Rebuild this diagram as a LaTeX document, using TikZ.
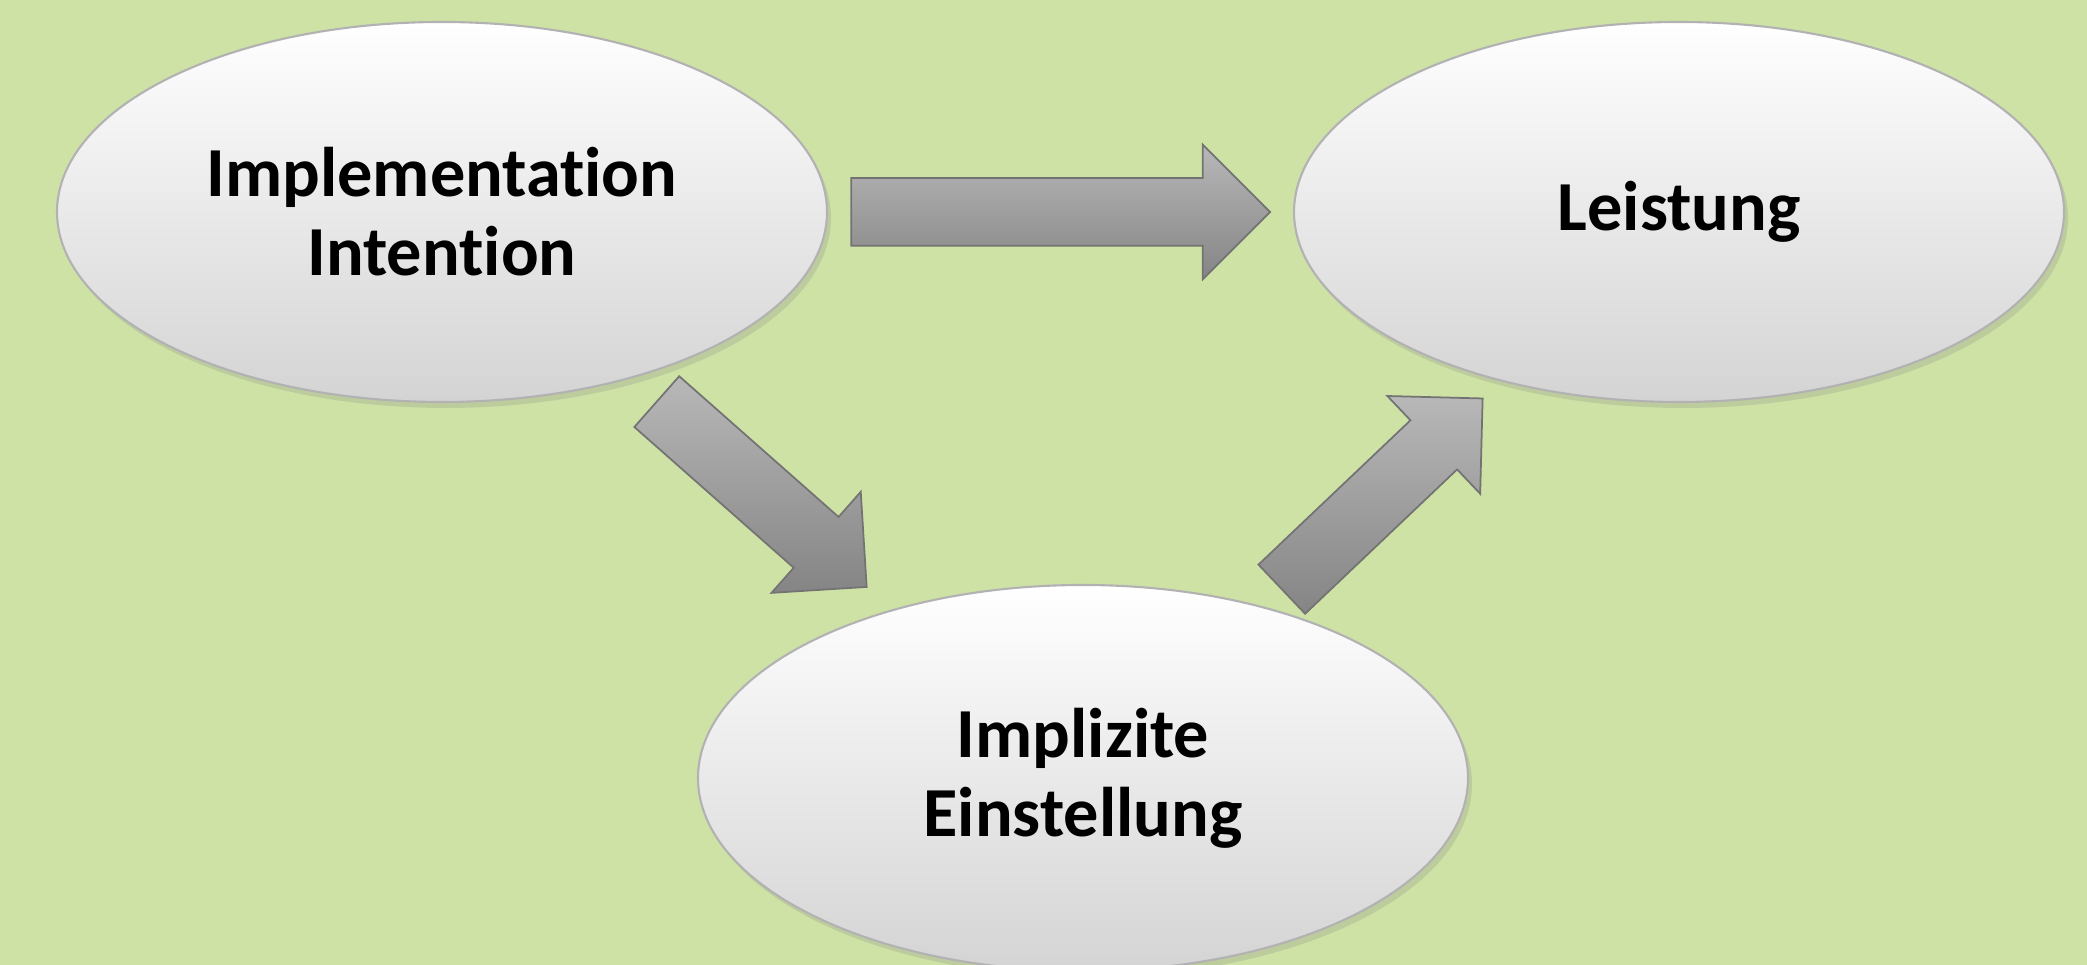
\documentclass[tikz,border=0pt]{standalone}
\usepackage{fontspec}
\setmainfont{Carlito}[Ligatures=NoCommon]
\usetikzlibrary{shapes.geometric, shapes.arrows, shadows}
\definecolor{bgGreen}{RGB}{207, 226, 166}
\definecolor{arrGray}{RGB}{166, 166, 166}

\begin{document}
\begin{tikzpicture}[
          nd/.style={ellipse, draw=black!30, line width=0.6pt, top color=white,
                     bottom color=black!17, minimum width=7.7cm, minimum height=3.8cm,
                     inner sep=0pt, outer sep=0pt, align=center,
                     font=\fontsize{20}{22.5}\selectfont\bfseries,
                     drop shadow={opacity=0.22, shadow xshift=0.04cm, shadow yshift=-0.06cm}},
          arr/.style={single arrow, sloped, draw=black!55, line width=0.5pt,
                     top color=arrGray!80, bottom color=arrGray!80!black,
                     inner xsep=0pt, inner ysep=0.33cm, outer sep=0pt,
                     single arrow head extend=0.335cm, single arrow tip angle=90,
                     minimum width=1.33cm}]
        \path[use as bounding box, clip] (0,0) rectangle (20.87,9.65);
        \fill[bgGreen] (0,0) rectangle (20.87,9.65);
        \node[nd] (impl)  at (4.42, 7.53)  {Implementation\\Intention};
        \node[nd] (leist) at (16.79, 7.53) {Leistung};
        \node[nd, minimum height=3.86cm] (einst) at (10.83, 1.87) {Implizite\\Einstellung};
        \path (impl)  -- node[arr, pos=0.464, minimum height=4.19cm] (arrIL) {} (leist);
        \path (impl)  -- node[arr, pos=0.453, minimum height=2.80cm] (arrIE) {} (einst);
        \path (einst) -- node[arr, pos=0.449, minimum height=2.77cm] (arrEL) {} (leist);
      \end{tikzpicture}
\end{document}
